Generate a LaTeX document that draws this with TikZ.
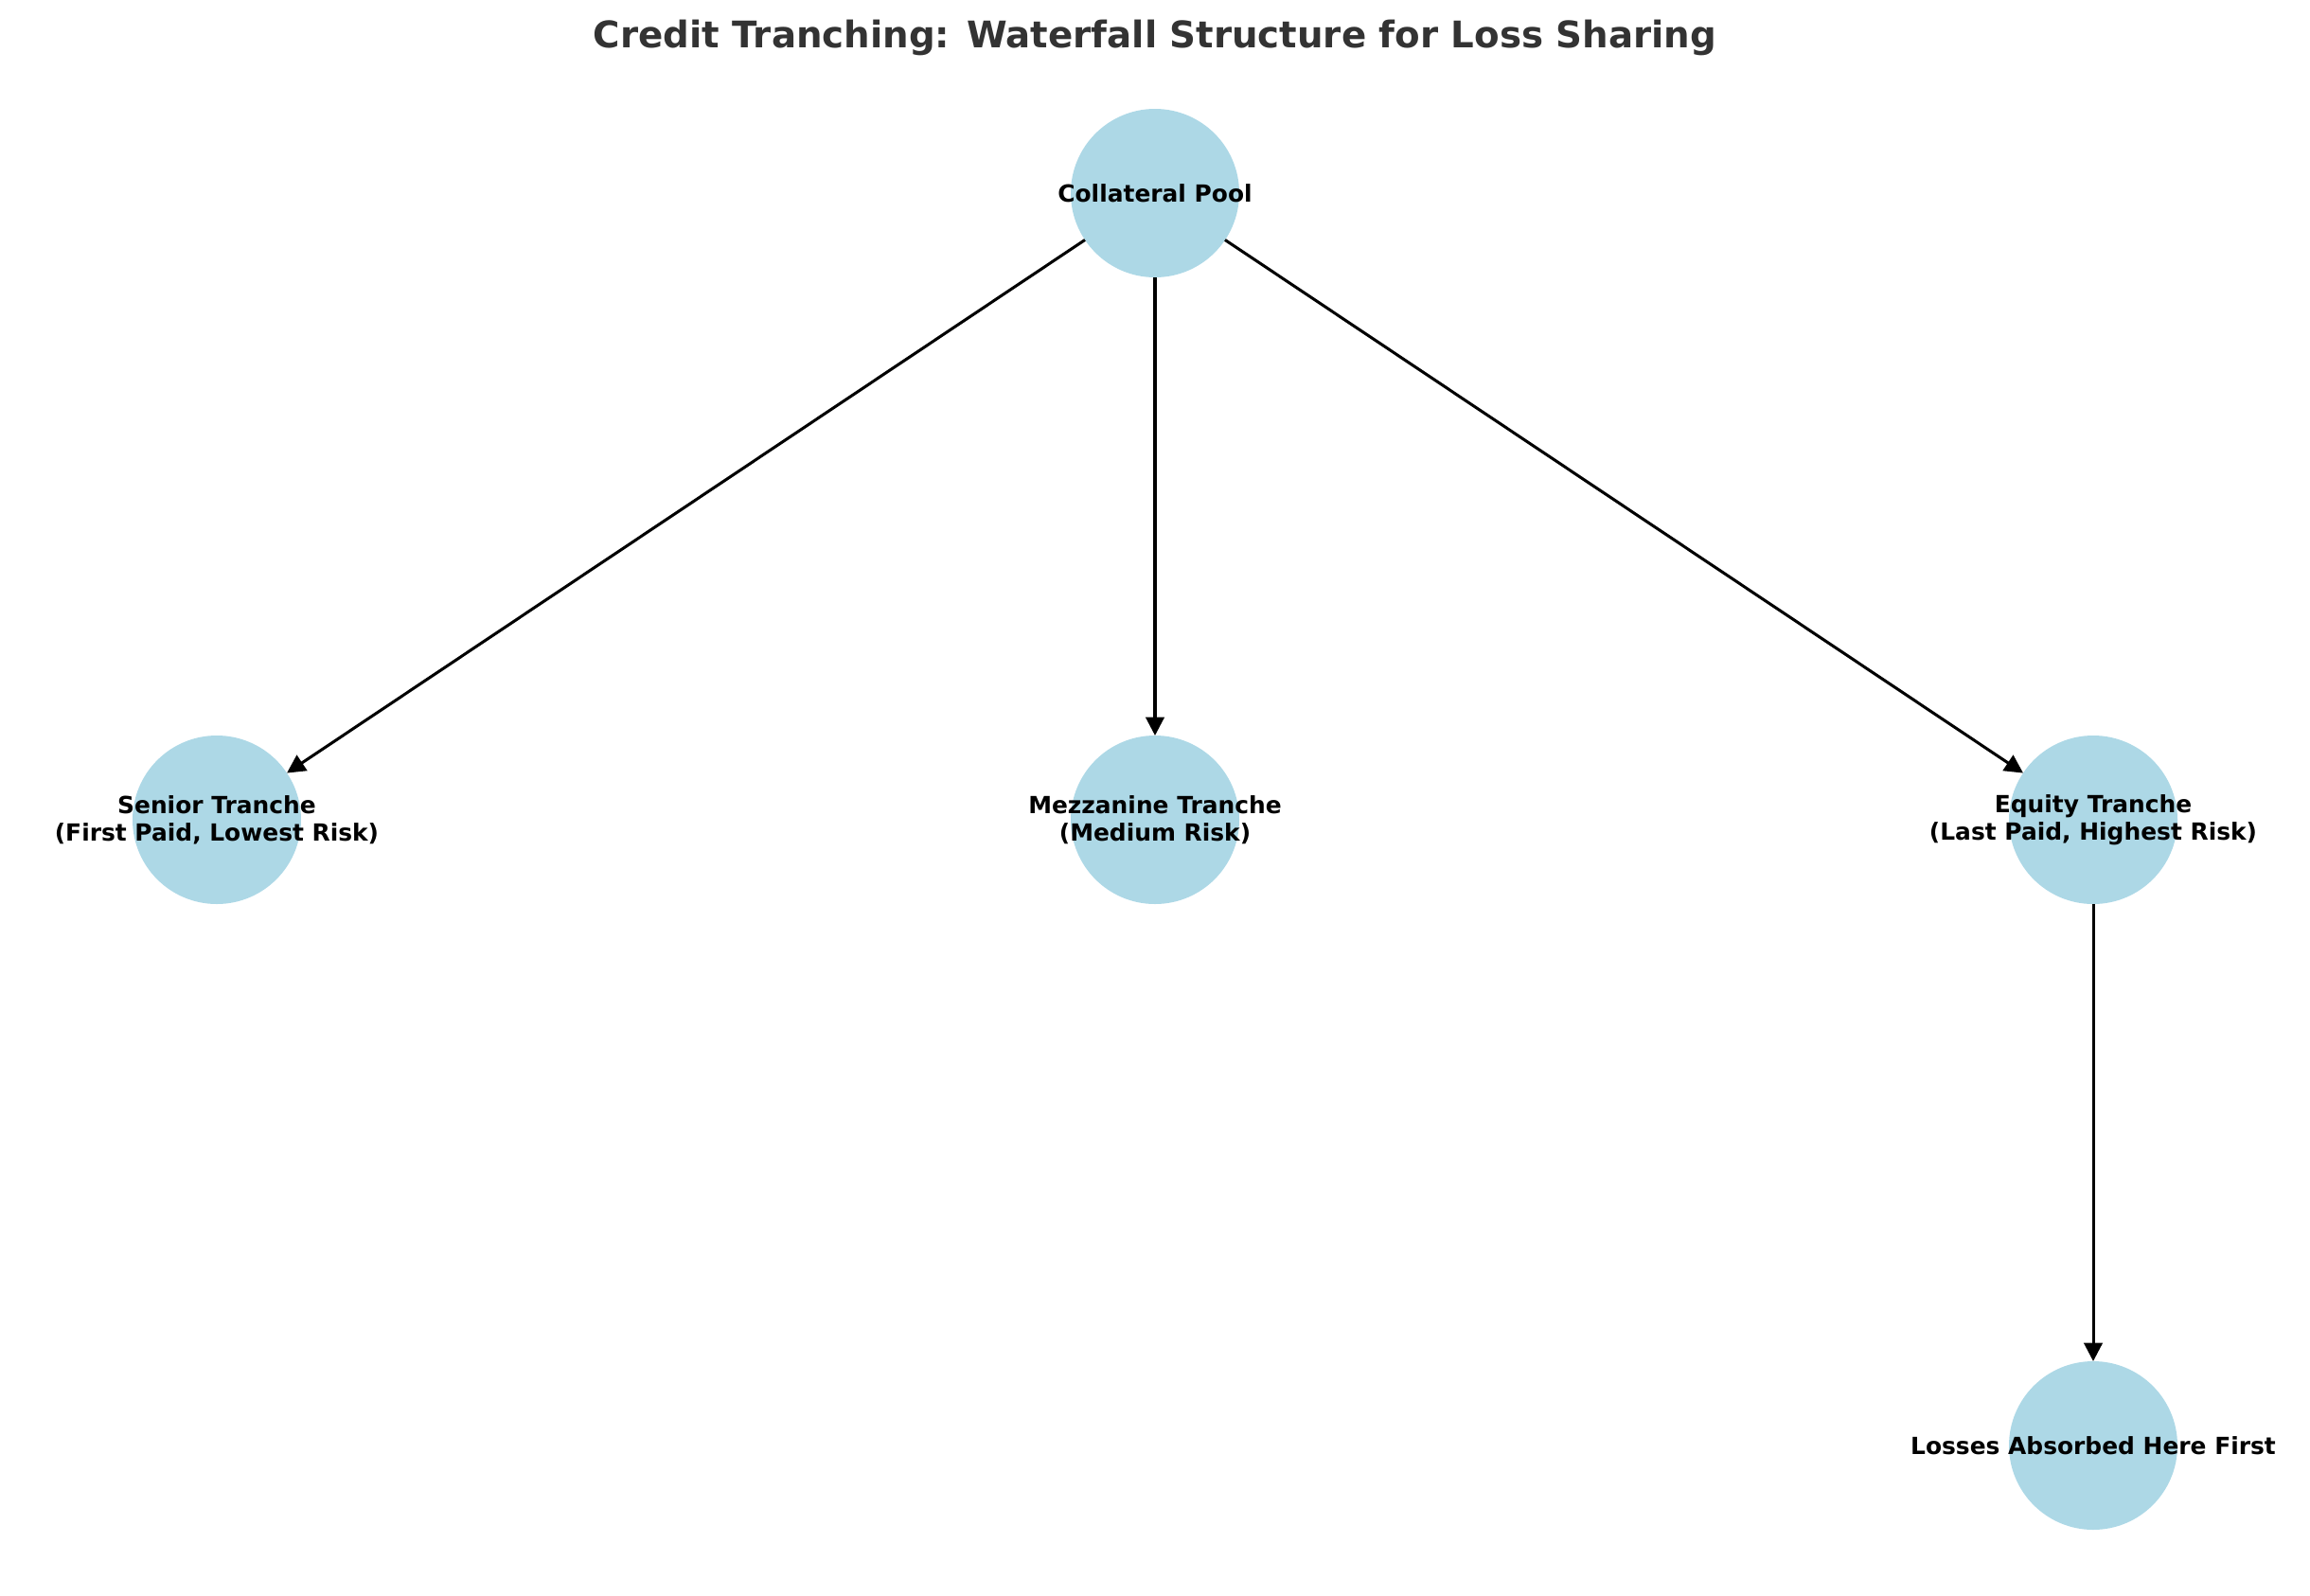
\documentclass[tikz,border=0pt]{standalone}
\usepackage{fontspec}
\setmainfont{DejaVu Sans}
\usepackage{tikz}
\usetikzlibrary{
    positioning,
    arrows.meta
}
\definecolor{tranchefill}{HTML}{ADD8E6}
\definecolor{titlegray}{HTML}{333333}
\tikzset{
    >={Triangle[length=7pt, width=7pt]},
    tranche/.style={
        circle,
        fill=tranchefill,
        minimum size=0.89in,
        inner sep=0pt,
        outer sep=0pt
    },
    tranchetext/.style={
        align=center,
        inner sep=0pt,
        font=\bfseries\fontsize{9}{10.5}\selectfont
    }
}

\begin{document}
\begin{tikzpicture}[
    x=1in,
    y=1in,
    line width=1.1pt
]

    \useasboundingbox (0,0) rectangle (12.2,-8.43);

    % Titulo
    \node[text=titlegray, font=\bfseries\fontsize{14}{17}\selectfont]
        (title) at (6.1,-0.2) {Credit Tranching: Waterfall Structure for Loss Sharing};

    % Pool
    \node[tranche, label={[tranchetext]center:Collateral Pool}]
        (pool) at (6.1,-1.02) {};

    % Tramos
    \node[tranche, label={[tranchetext]center:Senior Tranche\\(First Paid, Lowest Risk)}]
        (senior) at (1.145,-4.33) {};
    \node[tranche, label={[tranchetext]center:Mezzanine Tranche\\(Medium Risk)}]
        (mezz) at (6.1,-4.33) {};
    \node[tranche, label={[tranchetext]center:Equity Tranche\\(Last Paid, Highest Risk)}]
        (equity) at (11.055,-4.33) {};

    % Perdidas
    \node[tranche, label={[tranchetext]center:Losses Absorbed Here First}]
        (loss) at (11.055,-7.635) {};

    % Conexiones
    \path[->]

        % Desde pool
        (pool)
            edge (senior)
            edge (mezz)
            edge (equity)

        % Desde equity
        (equity)
            edge (loss);

\end{tikzpicture}
\end{document}
